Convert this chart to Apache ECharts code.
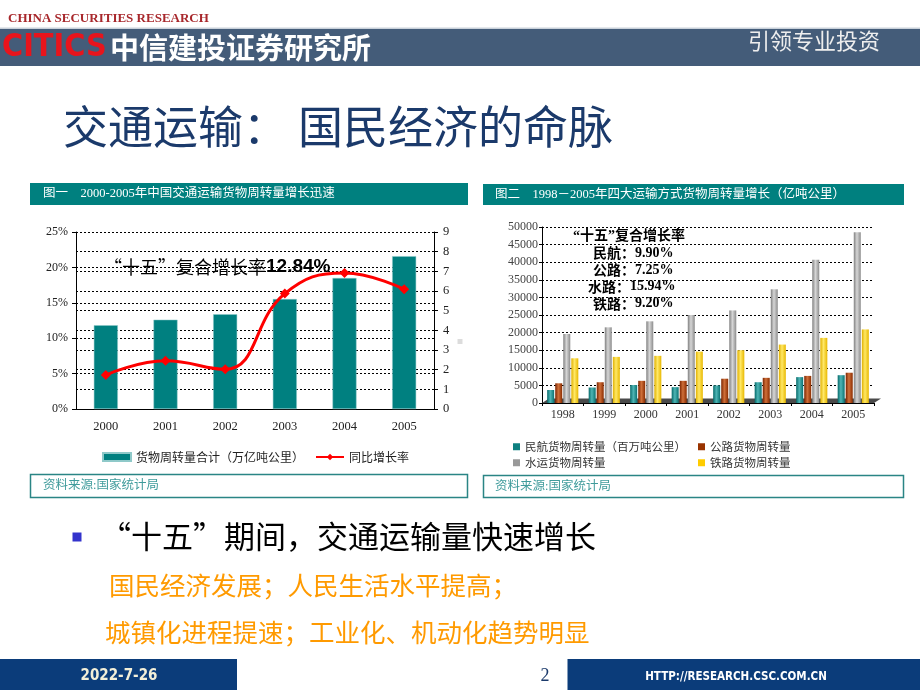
<!DOCTYPE html>
<html><head><meta charset="utf-8">
<script src="https://cdn.jsdelivr.net/npm/echarts@6/dist/echarts.min.js"></script>
<style>html,body{margin:0;padding:0;background:#fff}#c{width:920px;height:690px}</style>
</head><body><div id="c"></div>
<script>
// ---- Chart 1 data ----
const years1 = ['2000', '2001', '2002', '2003', '2004', '2005'];
const totalTurnover = [4.26, 4.54, 4.82, 5.59, 6.66, 7.77];      // 万亿吨公里 (right axis)
const growthRate = [4.8, 6.8, 5.6, 16.3, 19.2, 16.9];            // % (left axis)
const chart1Names = ['货物周转量合计（万亿吨公里）', '同比增长率'];
// ---- Chart 2 data ----
const years2 = ['1998', '1999', '2000', '2001', '2002', '2003', '2004', '2005'];
const airFreight = [3700, 4400, 5100, 4500, 5000, 5900, 7350, 7900];
const roadFreight = [5600, 5900, 6300, 6300, 6900, 7150, 7700, 8600];
const waterFreight = [19600, 21500, 23200, 25000, 26300, 32300, 40700, 48500];
const railFreight = [12700, 13100, 13400, 14600, 15000, 16600, 18500, 20900];
const chart2Names = ['民航货物周转量（百万吨公里）', '公路货物周转量', '水运货物周转量', '铁路货物周转量'];
const cagrLabels = [['民航', '9.90%'], ['公路', '7.25%'], ['水路', '15.94%'], ['铁路', '9.20%']];

const SERIF = '"Liberation Serif", "Noto Sans CJK SC", serif';
const CJK = '"Noto Sans CJK SC", sans-serif';
const chart = echarts.init(document.getElementById('c'), null, {renderer: 'canvas'});

function cyl(c1, c2, c3) {
  return new echarts.graphic.LinearGradient(0, 0, 1, 0, [
    {offset: 0, color: c1}, {offset: 0.45, color: c2}, {offset: 1, color: c3}]);
}
const dotted = {type: [2, 2], color: '#000', width: 1};

const G = []; // decorations
// header
G.push({type: 'text', style: {text: 'CHINA SECURITIES RESEARCH', x: 8, y: 18.5, font: 'bold 13px "Liberation Serif"', fill: '#a8282c', textVerticalAlign: 'middle'}});
G.push({type: 'rect', shape: {x: 0, y: 29, width: 920, height: 37}, style: {fill: '#445c79'}});
G.push({type: 'rect', shape: {x: 0, y: 27.5, width: 920, height: 1.5}, style: {fill: '#c9d1da'}});
G.push({type: 'text', style: {text: 'CITICS', x: 2, y: 47.5, font: 'bold 32px "DejaVu Sans Condensed", "Liberation Sans", sans-serif', fill: '#e8141c', textVerticalAlign: 'middle'}});
G.push({type: 'text', style: {text: '中信建投证券研究所', x: 110, y: 47.5, font: 'bold 29px ' + CJK, fill: '#ffffff', textVerticalAlign: 'middle'}});
G.push({type: 'text', style: {text: '引领专业投资', x: 748, y: 41, font: '22px ' + CJK, fill: '#eeeeee', textVerticalAlign: 'middle'}});
// title
G.push({type: 'text', style: {text: '交通运输： 国民经济的命脉', x: 63, y: 127, font: '45px ' + CJK, fill: '#1b3a6b', textVerticalAlign: 'middle'}});
// panel headers
G.push({type: 'rect', shape: {x: 30, y: 183, width: 438, height: 22}, style: {fill: '#00807f'}});
G.push({type: 'text', style: {text: '图一    2000-2005年中国交通运输货物周转量增长迅速', x: 43, y: 194, font: '12.5px ' + SERIF, fill: '#ffffff', textVerticalAlign: 'middle'}});
G.push({type: 'rect', shape: {x: 483, y: 184, width: 421, height: 21}, style: {fill: '#00807f'}});
G.push({type: 'text', style: {text: '图二    1998－2005年四大运输方式货物周转量增长（亿吨公里）', x: 495, y: 194.5, font: '12.5px ' + SERIF, fill: '#ffffff', textVerticalAlign: 'middle'}});
// source boxes
G.push({type: 'rect', shape: {x: 30.5, y: 474.5, width: 437, height: 23}, style: {fill: 'none', stroke: '#2a8585', lineWidth: 1.5}});
G.push({type: 'text', style: {text: '资料来源:国家统计局', x: 43, y: 486, font: '12.5px ' + SERIF, fill: '#3f9b9b', textVerticalAlign: 'middle'}});
G.push({type: 'rect', shape: {x: 483.5, y: 475.5, width: 420, height: 22}, style: {fill: 'none', stroke: '#2a8585', lineWidth: 1.5}});
G.push({type: 'text', style: {text: '资料来源:国家统计局', x: 495, y: 486.5, font: '12.5px ' + SERIF, fill: '#3f9b9b', textVerticalAlign: 'middle'}});
G.push({type: 'rect', shape: {x: 457.5, y: 339, width: 5, height: 5}, style: {fill: '#dcdcdc'}});
// annotation chart 1
G.push({type: 'text', z: 10, style: {text: '{a|“十五”复合增长率}{b|12.84%}', x: 104, y: 267, textVerticalAlign: 'middle',
  rich: {a: {font: '18px ' + CJK, fill: '#000'}, b: {font: 'bold 19px "Liberation Sans", sans-serif', fill: '#000'}}}});
// annotation chart 2
G.push({type: 'text', z: 10, style: {text: '“十五”复合增长率', x: 573, y: 236, font: 'bold 14px ' + SERIF, fill: '#000', textVerticalAlign: 'middle'}});
const cagrY = [253, 270, 286.7, 303.3];
cagrLabels.forEach((c, i) => {
  G.push({type: 'text', z: 10, style: {text: '{a|' + c[0] + '：}{b|' + c[1] + '}', x: c[1].length > 5 ? 588 : 593, y: cagrY[i], textVerticalAlign: 'middle',
    rich: {a: {font: 'bold 14px ' + CJK, fill: '#000'}, b: {font: 'bold 14px "Liberation Serif"', fill: '#000'}}}});
});
// chart 2 floor
G.push({type: 'polygon', z: 1, shape: {points: [[542, 403], [874, 403], [881, 398.5], [549, 398.5]]}, style: {fill: '#4a4a4a'}});
// bullet text
G.push({type: 'rect', shape: {x: 72.5, y: 532.5, width: 9, height: 9}, style: {fill: '#3333cc'}});
G.push({type: 'text', style: {text: '“十五”期间，交通运输量快速增长', x: 100, y: 536, font: '31px ' + CJK, fill: '#000', textVerticalAlign: 'middle'}});
G.push({type: 'text', style: {text: '国民经济发展；人民生活水平提高；', x: 109, y: 585, font: '25.5px ' + CJK, fill: '#ff9a00', textVerticalAlign: 'middle'}});
G.push({type: 'text', style: {text: '城镇化进程提速；工业化、机动化趋势明显', x: 105, y: 632, font: '25.5px ' + CJK, fill: '#ff9a00', textVerticalAlign: 'middle'}});
// footer
G.push({type: 'rect', shape: {x: 0, y: 659, width: 237, height: 31}, style: {fill: '#0b3c7a'}});
G.push({type: 'rect', shape: {x: 567.5, y: 659, width: 352.5, height: 31}, style: {fill: '#0b3c7a'}});
G.push({type: 'text', style: {text: '2022-7-26', x: 119, y: 676, font: 'bold 15px "DejaVu Sans Condensed", sans-serif', fill: '#f3efd8', textAlign: 'center', textVerticalAlign: 'middle'}});
G.push({type: 'text', style: {text: '2', x: 545, y: 676, font: '18px "Liberation Serif"', fill: '#1b3a6b', textAlign: 'center', textVerticalAlign: 'middle'}});
G.push({type: 'text', style: {text: 'HTTP://RESEARCH.CSC.COM.CN', x: 736, y: 677, font: 'bold 11.5px "DejaVu Sans Condensed", sans-serif', fill: '#ffffff', textAlign: 'center', textVerticalAlign: 'middle'}});

const lg2 = (name, color, left, top) => ({data: [{name: name, icon: 'rect', itemStyle: {color: color}}], left: left, top: top, padding: 0,
  itemWidth: 7, itemHeight: 7, textStyle: {fontSize: 11.5, color: '#333', fontFamily: CJK}});

const option = {
  animation: false,
  backgroundColor: '#fff',
  graphic: G,
  grid: [
    {left: 76, top: 232, width: 358, height: 177},
    {left: 542, top: 227, width: 332, height: 176}
  ],
  xAxis: [
    {gridIndex: 0, type: 'category', data: years1, axisLine: {lineStyle: {color: '#000'}}, axisTick: {show: false},
      axisLabel: {color: '#222', fontFamily: SERIF, fontSize: 12.5, margin: 11}},
    {gridIndex: 1, type: 'category', data: years2, axisLine: {lineStyle: {color: '#000'}}, axisTick: {show: true, length: 3, lineStyle: {color: '#000'}},
      axisLabel: {color: '#333', fontFamily: SERIF, fontSize: 12, margin: 6}}
  ],
  yAxis: [
    {gridIndex: 0, type: 'value', min: 0, max: 25, interval: 5, position: 'left',
      axisLine: {show: true, lineStyle: {color: '#000'}}, axisTick: {show: true, length: 4, lineStyle: {color: '#000'}},
      axisLabel: {formatter: '{value}%', color: '#222', fontFamily: SERIF, fontSize: 12, margin: 8},
      splitLine: {show: true, lineStyle: dotted}},
    {gridIndex: 0, type: 'value', min: 0, max: 9, interval: 1, position: 'right',
      axisLine: {show: true, lineStyle: {color: '#000'}}, axisTick: {show: true, length: 4, lineStyle: {color: '#000'}},
      axisLabel: {color: '#222', fontFamily: SERIF, fontSize: 12.5, margin: 9},
      splitLine: {show: true, lineStyle: dotted}},
    {gridIndex: 1, type: 'value', min: 0, max: 50000, interval: 5000,
      axisLine: {show: true, lineStyle: {color: '#000'}}, axisTick: {show: true, length: 3, lineStyle: {color: '#000'}},
      axisLabel: {color: '#444', fontFamily: SERIF, fontSize: 12, margin: 4, formatter: v => String(v)},
      splitLine: {show: true, lineStyle: dotted}}
  ],
  legend: [
    {data: [{name: chart1Names[0], icon: 'rect'}, {name: chart1Names[1]}], left: 102, top: 451, padding: 0, itemWidth: 28, itemHeight: 8, itemGap: 11,
      textStyle: {fontSize: 12, color: '#222', fontFamily: CJK}},
    lg2(chart2Names[0], '#0e8080', 513, 441),
    lg2(chart2Names[1], '#993300', 698, 441),
    lg2(chart2Names[2], '#999999', 513, 457),
    lg2(chart2Names[3], '#ffcc00', 698, 457)
  ],
  series: [
    {name: chart1Names[0], type: 'bar', xAxisIndex: 0, yAxisIndex: 1, data: totalTurnover, barWidth: 24,
      itemStyle: {color: '#008080', borderColor: '#8fc9c9', borderWidth: 0.5}},
    {name: chart1Names[1], type: 'line', xAxisIndex: 0, yAxisIndex: 0, data: growthRate, smooth: 0.45,
      symbol: 'diamond', symbolSize: 10, lineStyle: {color: '#ff0000', width: 3}, itemStyle: {color: '#ff0000'}, z: 5},
    {name: chart2Names[0], type: 'bar', xAxisIndex: 1, yAxisIndex: 2, data: airFreight, barWidth: 7, barGap: '15%', z: 3,
      itemStyle: {color: cyl('#066a6a', '#4fb5b5', '#0a7272')}},
    {name: chart2Names[1], type: 'bar', xAxisIndex: 1, yAxisIndex: 2, data: roadFreight, barWidth: 7, barGap: '15%', z: 3,
      itemStyle: {color: cyl('#7a2400', '#d0703a', '#8a2c00')}},
    {name: chart2Names[2], type: 'bar', xAxisIndex: 1, yAxisIndex: 2, data: waterFreight, barWidth: 7, barGap: '15%', z: 3,
      itemStyle: {color: cyl('#808080', '#d6d6d6', '#8c8c8c')}},
    {name: chart2Names[3], type: 'bar', xAxisIndex: 1, yAxisIndex: 2, data: railFreight, barWidth: 7, barGap: '15%', z: 3,
      itemStyle: {color: cyl('#e0b000', '#ffe866', '#e8b800')}}
  ]
};
chart.setOption(option);
</script>
</body></html>
